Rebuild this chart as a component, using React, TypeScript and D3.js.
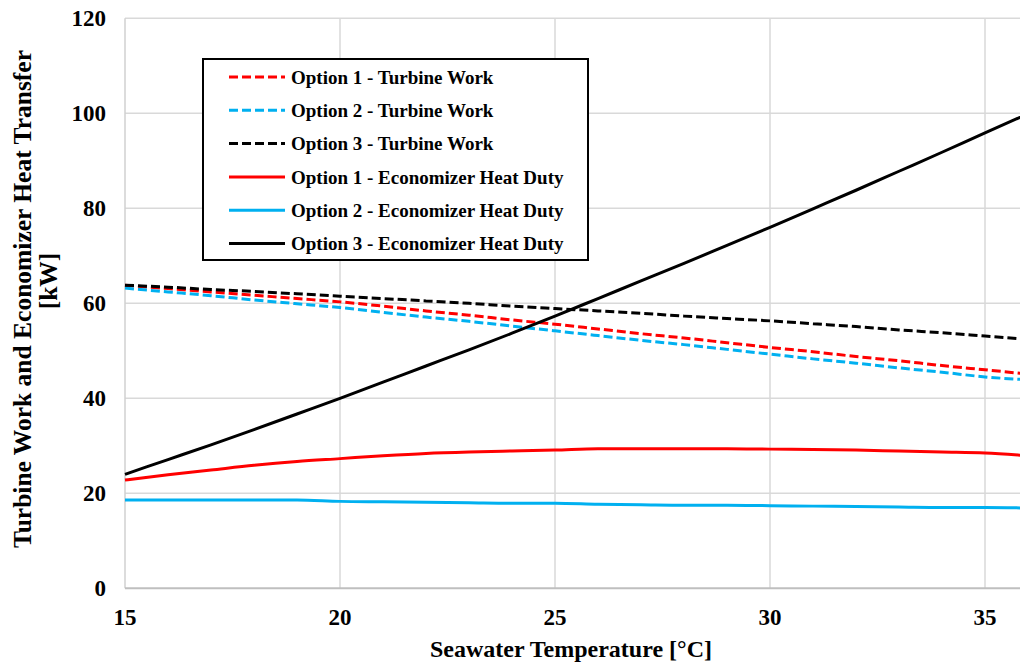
import React from "react";
import * as d3 from "d3";

// Seawater temperature (°C)
const temperature = [15, 16, 17, 18, 19, 20, 21, 22, 23, 24, 25, 26, 27, 28, 29, 30, 31, 32, 33, 34, 35, 36];

// Turbine work (kW)
const opt1Turbine = [63.8, 63.1, 62.4, 61.7, 61.0, 60.3, 59.4, 58.4, 57.5, 56.5, 55.6, 54.6, 53.6, 52.7, 51.7, 50.7, 49.8, 48.8, 47.9, 46.9, 46.0, 45.1];
const opt2Turbine = [63.2, 62.4, 61.6, 60.7, 59.9, 59.1, 58.1, 57.1, 56.2, 55.2, 54.2, 53.2, 52.2, 51.3, 50.3, 49.3, 48.3, 47.4, 46.4, 45.5, 44.5, 43.9];
const opt3Turbine = [63.8, 63.4, 62.9, 62.5, 62.0, 61.5, 61.0, 60.5, 60.0, 59.4, 58.9, 58.4, 57.9, 57.3, 56.8, 56.3, 55.7, 55.1, 54.4, 53.8, 53.1, 52.4];

// Economizer heat duty (kW)
const opt1Economizer = [22.8, 23.9, 24.9, 25.9, 26.7, 27.3, 27.9, 28.4, 28.7, 28.9, 29.1, 29.4, 29.4, 29.4, 29.4, 29.3, 29.2, 29.1, 28.9, 28.7, 28.5, 27.9];
const opt2Economizer = [18.6, 18.6, 18.6, 18.6, 18.6, 18.3, 18.2, 18.1, 18.0, 17.9, 17.9, 17.7, 17.6, 17.5, 17.5, 17.4, 17.3, 17.2, 17.1, 17.0, 17.0, 16.9];
const opt3Economizer = [24.0, 27.1, 30.2, 33.4, 36.7, 40.0, 43.4, 46.8, 50.2, 53.7, 57.3, 61.0, 64.7, 68.4, 72.2, 76.0, 79.9, 83.8, 87.8, 91.8, 95.9, 99.9];

const xTicks = [15, 20, 25, 30, 35];
const yTicks = [0, 20, 40, 60, 80, 100, 120];

const seriesList = [
  { name: "Option 1 - Turbine Work", values: opt1Turbine, color: "#ff0000", dashed: true },
  { name: "Option 2 - Turbine Work", values: opt2Turbine, color: "#00b0f0", dashed: true },
  { name: "Option 3 - Turbine Work", values: opt3Turbine, color: "#000000", dashed: true },
  { name: "Option 1 - Economizer Heat Duty", values: opt1Economizer, color: "#ff0000", dashed: false },
  { name: "Option 2 - Economizer Heat Duty", values: opt2Economizer, color: "#00b0f0", dashed: false },
  { name: "Option 3 - Economizer Heat Duty", values: opt3Economizer, color: "#000000", dashed: false },
];

const W = 1020;
const H = 665;
const left = 125;
const top = 18.3;
const bottom = 588.3;
const FONT = "'Liberation Serif', 'Times New Roman', serif";

export default function App() {
  const x = d3.scaleLinear().domain([15, 36]).range([left, left + 21 * 43]);
  const y = d3.scaleLinear().domain([0, 120]).range([bottom, top]);

  const line = (vals: number[]) =>
    d3
      .line<number>()
      .x((_, i) => x(temperature[i]))
      .y((v) => y(v))
      .curve(d3.curveMonotoneX)(vals) as string;

  const legendX = 203;
  const legendY = 59;
  const rowH = 33.3;

  return (
    <svg
      width={W}
      height={H}
      style={{ position: "absolute", left: 0, top: 0, background: "#fff" }}
      fontFamily={FONT}
      fontWeight="bold"
    >
      <rect x={0} y={0} width={W} height={H} fill="#fff" />
      {/* gridlines */}
      {yTicks.filter((t) => t > 0).map((t) => (
        <line key={"gy" + t} x1={left} x2={W} y1={y(t)} y2={y(t)} stroke="#d9d9d9" strokeWidth={1.5} />
      ))}
      {xTicks.filter((t) => t > 15).map((t) => (
        <line key={"gx" + t} x1={x(t)} x2={x(t)} y1={top} y2={bottom} stroke="#d9d9d9" strokeWidth={1.5} />
      ))}
      {/* axes */}
      <line x1={left} x2={left} y1={top} y2={bottom} stroke="#d0d0d0" strokeWidth={1.5} />
      <line x1={left} x2={W} y1={bottom} y2={bottom} stroke="#bfbfbf" strokeWidth={2} />

      {/* series */}
      {seriesList.map((s) => (
        <path
          key={s.name}
          d={line(s.values)}
          fill="none"
          stroke={s.color}
          strokeWidth={3}
          strokeDasharray={s.dashed ? "9,4" : undefined}
        />
      ))}

      {/* tick labels */}
      {yTicks.map((t) => (
        <text key={"ty" + t} x={106} y={y(t)} dy="0.35em" textAnchor="end" fontSize={23}>
          {t}
        </text>
      ))}
      {xTicks.map((t) => (
        <text key={"tx" + t} x={x(t)} y={617} dy="0.35em" textAnchor="middle" fontSize={23}>
          {t}
        </text>
      ))}

      {/* axis titles */}
      <text x={571} y={649} dy="0.35em" textAnchor="middle" fontSize={24}>
        Seawater Temperature [°C]
      </text>
      <text transform={`translate(22,${299}) rotate(-90)`} textAnchor="middle" dy="0.35em" fontSize={25.5}>
        Turbine Work and Economizer Heat Transfer
      </text>
      <text transform={`translate(48,${281}) rotate(-90)`} textAnchor="middle" dy="0.35em" fontSize={25.5}>
        [kW]
      </text>

      {/* legend */}
      <rect x={legendX} y={legendY} width={385} height={201} fill="#fff" stroke="#000" strokeWidth={2} />
      {seriesList.map((s, i) => {
        const cy = 77 + i * rowH;
        return (
          <g key={"lg" + i}>
            <line
              x1={229}
              x2={285}
              y1={cy}
              y2={cy}
              stroke={s.color}
              strokeWidth={3}
              strokeDasharray={s.dashed ? "9,4" : undefined}
            />
            <text x={291} y={cy} dy="0.35em" fontSize={19}>
              {s.name}
            </text>
          </g>
        );
      })}
    </svg>
  );
}
